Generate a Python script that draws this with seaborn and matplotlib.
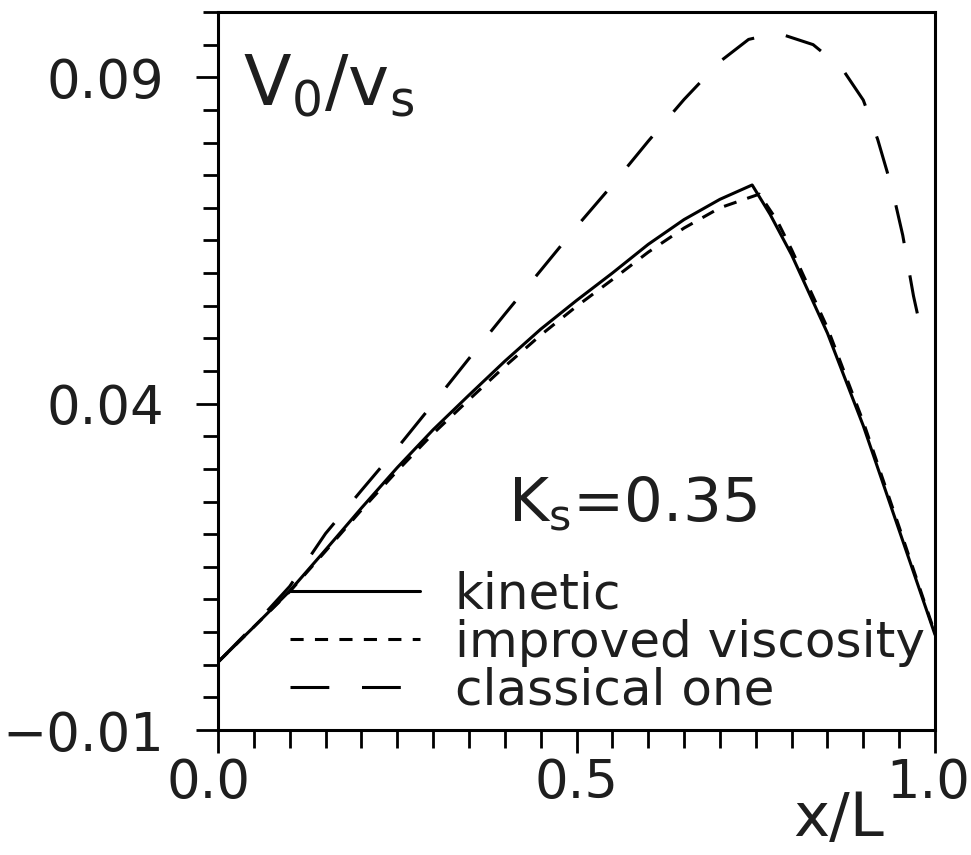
import numpy as np
import pandas as pd
import matplotlib
matplotlib.use("Agg")
import matplotlib.pyplot as plt
import matplotlib.transforms as mtransforms
import seaborn as sns
from matplotlib.ticker import FixedLocator, MultipleLocator

# ---- data ----
kinetic_x = [0.0, 0.05, 0.10, 0.15, 0.20, 0.25, 0.30, 0.35, 0.40, 0.45, 0.50,
             0.55, 0.60, 0.65, 0.70, 0.745, 0.77, 0.80, 0.85, 0.90, 0.95, 1.0]
kinetic_y = [0.0004, 0.0058, 0.0113, 0.0176, 0.0240, 0.0302, 0.0360, 0.0413,
             0.0465, 0.0514, 0.0558, 0.0600, 0.0644, 0.0682, 0.0713, 0.0735,
             0.0690, 0.0628, 0.0508, 0.0366, 0.0206, 0.0046]

improved_x = [0.0, 0.05, 0.10, 0.15, 0.20, 0.25, 0.30, 0.35, 0.40, 0.45, 0.50,
              0.55, 0.60, 0.65, 0.70, 0.755, 0.78, 0.80, 0.85, 0.90, 0.95, 1.0]
improved_y = [0.0004, 0.0058, 0.0112, 0.0174, 0.0237, 0.0297, 0.0354, 0.0406,
              0.0457, 0.0505, 0.0549, 0.0590, 0.0632, 0.0669, 0.0700, 0.0721,
              0.0680, 0.0636, 0.0516, 0.0372, 0.0211, 0.0048]

classical_x = [0.0, 0.05, 0.10, 0.15, 0.20, 0.25, 0.30, 0.35, 0.40, 0.45, 0.50,
               0.55, 0.60, 0.65, 0.70, 0.74, 0.78, 0.83, 0.87, 0.90, 0.92,
               0.94, 0.955, 0.97, 0.985]
classical_y = [0.0004, 0.0060, 0.0120, 0.0201, 0.0267, 0.0332, 0.0400, 0.0469,
               0.0537, 0.0604, 0.0671, 0.0735, 0.0802, 0.0866, 0.0924, 0.0958,
               0.0968, 0.0950, 0.0914, 0.0865, 0.0805, 0.0730, 0.0658, 0.0565,
               0.0490]

series_names = ["kinetic", "improved viscosity", "classical one"]
x_major_ticks = [0.0, 0.5, 1.0]
x_tick_labels = ["0.0", "0.5", "1.0"]
y_major_ticks = [-0.01, 0.04, 0.09]
y_tick_labels = ["\u22120.01", "0.04", "0.09"]
x_label = "x/L"
y_label = r"$\mathregular{V_0/v_s}$"
param_text = r"$\mathregular{K_s}$=0.35"

# ---- build long table ----
df = pd.concat([
    pd.DataFrame({"x": kinetic_x, "y": kinetic_y, "model": series_names[0]}),
    pd.DataFrame({"x": improved_x, "y": improved_y, "model": series_names[1]}),
    pd.DataFrame({"x": classical_x, "y": classical_y, "model": series_names[2]}),
], ignore_index=True)

sns.set_theme(style="white")
plt.rcParams["font.family"] = ["DejaVu Sans"]
plt.rcParams["axes.unicode_minus"] = True

fig = plt.figure(figsize=(9.71, 8.55), dpi=100)
W, H = 971, 855
ax = fig.add_axes([218 / W, 1 - 730 / H, 717 / W, 718 / H])

dash_map = {
    series_names[0]: "",
    series_names[1]: (4.3, 3.7),
    series_names[2]: (12.7, 10.7),
}
sns.lineplot(data=df, x="x", y="y", style="model", style_order=series_names,
             dashes=dash_map, color="black", linewidth=2.2, estimator=None,
             sort=False, ax=ax, legend=True)

ax.set_xlim(0.0, 1.0)
ax.set_ylim(-0.01, 0.1)
ax.set_xlabel("")
ax.set_ylabel("")

ax.xaxis.set_major_locator(FixedLocator(x_major_ticks))
ax.xaxis.set_minor_locator(MultipleLocator(0.05))
ax.yaxis.set_major_locator(FixedLocator(y_major_ticks))
ax.yaxis.set_minor_locator(FixedLocator(list(np.round(np.arange(-0.01, 0.1001, 0.005), 4))))
ax.set_xticklabels(x_tick_labels)
ax.set_yticklabels(y_tick_labels)

text_color = "#1e1e1e"
ax.tick_params(axis="both", which="both", direction="out", color="black",
               width=2.0, left=True, bottom=True, top=False, right=False,
               labelcolor=text_color)
ax.tick_params(axis="both", which="major", labelsize=38)
ax.tick_params(axis="y", which="major", length=16, pad=23)
ax.tick_params(axis="y", which="minor", length=11)
ax.tick_params(axis="x", which="major", length=16.5, pad=3)
ax.tick_params(axis="x", which="minor", length=13)

for side in ["left", "right", "top", "bottom"]:
    ax.spines[side].set_visible(True)
    ax.spines[side].set_color("black")
    ax.spines[side].set_linewidth(2.2)

# small horizontal nudges of the end x tick labels, as in the reference
xticks = ax.xaxis.get_major_ticks()
for tk, dx in ((xticks[0], -10), (xticks[2], -7)):
    off = mtransforms.ScaledTranslation(dx / 100, 0, fig.dpi_scale_trans)
    tk.label1.set_transform(tk.label1.get_transform() + off)

ax.text(0.035, 0.870, y_label, transform=ax.transAxes, fontsize=50,
        ha="left", va="baseline", color=text_color)
ax.text(0.404, 0.290, param_text, transform=ax.transAxes, fontsize=44,
        ha="left", va="baseline", color=text_color)
ax.text(0.865, -0.125, x_label, transform=ax.transAxes, fontsize=44,
        ha="center", va="center", color=text_color)

handles, labels = ax.get_legend_handles_labels()
leg = ax.legend(handles, labels, loc="upper left", bbox_to_anchor=(0.1, 0.222),
                frameon=False, fontsize=36, handlelength=2.6, handletextpad=0.7,
                labelspacing=0.0, borderaxespad=0, borderpad=0)
for line in leg.get_lines():
    line.set_linewidth(2.2)
    line.set_color("black")
for t in leg.get_texts():
    t.set_color(text_color)

fig.savefig("out.png", dpi=100)
